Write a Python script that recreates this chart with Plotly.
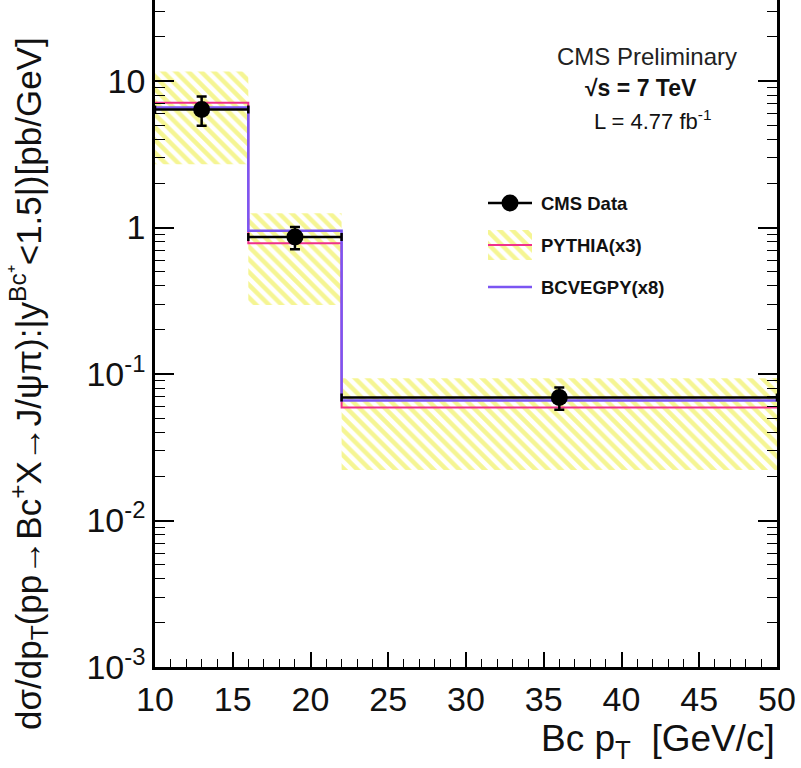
import plotly.graph_objects as go

# Bc pT bins [GeV/c]
bin_edges = [10, 16, 22, 50]
bin_centers = [13, 19, 36]

# CMS measured cross section [pb/GeV]
cms_y = [6.4, 0.86, 0.069]
cms_err = [1.45, 0.15, 0.012]

# Theory predictions (scaled)
pythia_y = [7.1, 0.78, 0.059]
pythia_hi = [11.6, 1.25, 0.0935]
pythia_lo = [2.7, 0.296, 0.0221]
bcvegpy_y = [6.6, 0.95, 0.066]

y_tickvals = [1e-3, 1e-2, 1e-1, 1, 10]
y_ticktext = ["10<sup>-3</sup>", "10<sup>-2</sup>", "10<sup>-1</sup>", "1", "10"]
x_tickvals = [10, 15, 20, 25, 30, 35, 40, 45, 50]

PINK = "#f0308c"
PURPLE = "#7b55f2"
YELLOW = "#ecec28"
FONT = "Liberation Sans"

W, H = 801, 768
ML, MR, MT, MB = 155, 24, 0, 101
PW, PH = W - ML - MR, H - MT - MB
Y_RANGE = [-3, 1.553]


def px(x):
    return (x - ML) / PW


def py(y):
    return (H - MB - y) / PH


fig = go.Figure()

# PYTHIA uncertainty bands (hatched)
for i in range(len(bin_centers)):
    x0, x1 = bin_edges[i], bin_edges[i + 1]
    fig.add_trace(go.Scatter(
        x=[x0, x1, x1, x0, x0],
        y=[pythia_lo[i], pythia_lo[i], pythia_hi[i], pythia_hi[i], pythia_lo[i]],
        mode="lines", fill="toself", line=dict(width=0),
        fillcolor="rgba(255,255,255,0)",
        fillpattern=dict(shape="\\", fgcolor=YELLOW, size=9, solidity=0.5),
        showlegend=False, hoverinfo="skip"))

# step histograms
fig.add_trace(go.Scatter(
    x=bin_edges, y=pythia_y + [pythia_y[-1]], mode="lines",
    line=dict(color=PINK, width=2, shape="hv"), showlegend=False))
fig.add_trace(go.Scatter(
    x=bin_edges, y=bcvegpy_y + [bcvegpy_y[-1]], mode="lines",
    line=dict(color=PURPLE, width=2.5, shape="hv"), showlegend=False))

# data points with bin-width horizontal bars
half_w = [(bin_edges[i + 1] - bin_edges[i]) / 2 for i in range(len(bin_centers))]
fig.add_trace(go.Scatter(
    x=[(bin_edges[i] + bin_edges[i + 1]) / 2 for i in range(len(bin_centers))],
    y=cms_y, mode="markers",
    marker=dict(size=0.1, color="black"),
    error_x=dict(type="data", array=half_w, color="black", thickness=2.5, width=4),
    showlegend=False))
fig.add_trace(go.Scatter(
    x=bin_centers, y=cms_y, mode="markers",
    marker=dict(size=17, color="black"),
    error_y=dict(type="data", array=cms_err, color="black", thickness=2.5, width=5),
    showlegend=False))

# right-hand axis carrying major and minor ticks
fig.add_trace(go.Scatter(x=[None], y=[None], yaxis="y3", showlegend=False))

# legend drawn on an overlay frame
lx0, lx1, lxm = px(488), px(532), px(510)
fig.add_trace(go.Scatter(x=[lx0, lx1], y=[py(203)] * 2, mode="lines",
                         line=dict(color="black", width=2.5),
                         xaxis="x2", yaxis="y2", showlegend=False))
fig.add_trace(go.Scatter(x=[lxm], y=[py(203)], mode="markers",
                         marker=dict(size=17, color="black"),
                         xaxis="x2", yaxis="y2", showlegend=False))
fig.add_trace(go.Scatter(
    x=[lx0, lx1, lx1, lx0, lx0], y=[py(260), py(260), py(230), py(230), py(260)],
    mode="lines", fill="toself", line=dict(width=0), fillcolor="rgba(255,255,255,0)",
    fillpattern=dict(shape="\\", fgcolor=YELLOW, size=9, solidity=0.5),
    xaxis="x2", yaxis="y2", showlegend=False))
fig.add_trace(go.Scatter(x=[lx0, lx1], y=[py(245)] * 2, mode="lines",
                         line=dict(color=PINK, width=2),
                         xaxis="x2", yaxis="y2", showlegend=False))
fig.add_trace(go.Scatter(x=[lx0, lx1], y=[py(287)] * 2, mode="lines",
                         line=dict(color=PURPLE, width=2.5),
                         xaxis="x2", yaxis="y2", showlegend=False))

annotations = []
for label, ypix in [("CMS Data", 203), ("PYTHIA(x3)", 245), ("BCVEGPY(x8)", 287)]:
    annotations.append(dict(
        x=px(539), y=py(ypix), xref="paper", yref="paper", text=f"<b>{label}</b>",
        showarrow=False, xanchor="left", yanchor="middle",
        font=dict(family=FONT, size=18.5, color="#111")))

annotations += [
    dict(x=px(647), y=py(57), xref="paper", yref="paper", text="CMS Preliminary",
         showarrow=False, xanchor="center", yanchor="middle",
         font=dict(family=FONT, size=24, color="#222")),
    dict(x=px(641), y=py(88), xref="paper", yref="paper", text="<b>√s = 7 TeV</b>",
         showarrow=False, xanchor="center", yanchor="middle",
         font=dict(family=FONT, size=23, color="#111")),
    dict(x=px(652), y=py(120), xref="paper", yref="paper", text="L = 4.77 fb<sup>-1</sup>",
         showarrow=False, xanchor="center", yanchor="middle",
         font=dict(family=FONT, size=22, color="#111")),
    dict(x=px(777), y=py(741), xref="paper", yref="paper",
         text="Bc p<sub>T</sub>  [GeV/c]",
         showarrow=False, xanchor="right", yanchor="middle",
         font=dict(family=FONT, size=37, color="#111")),
    dict(x=px(29), y=py(384), xref="paper", yref="paper", textangle=-90,
         text="dσ/dp<sub>T</sub>(pp→Bc<sup>+</sup>X→J/ψπ):|y<sup>Bc⁺</sup><1.5|)[pb/GeV]",
         showarrow=False, xanchor="center", yanchor="middle",
         font=dict(family=FONT, size=35, color="#111")),
]

minor_y = [k * 10.0 ** d for d in range(-3, 2) for k in range(2, 10)]

fig.update_layout(
    width=W, height=H, margin=dict(l=ML, r=MR, t=MT, b=MB),
    paper_bgcolor="white", plot_bgcolor="white",
    showlegend=False, annotations=annotations,
    xaxis=dict(range=[10, 50], tickvals=x_tickvals, ticks="inside", ticklen=15,
               tickwidth=1.5, tickcolor="black",
               minor=dict(dtick=1, tick0=10, ticks="inside", ticklen=8, tickwidth=1.2,
                          tickcolor="black"),
               showline=True, linewidth=2.5, linecolor="black", mirror=False,
               showgrid=False, zeroline=False,
               tickfont=dict(family=FONT, size=34, color="#111")),
    yaxis=dict(type="log", range=Y_RANGE, tickvals=y_tickvals, ticktext=y_ticktext,
               ticks="inside", ticklen=19, tickwidth=1.5, tickcolor="black",
               minor=dict(tickvals=minor_y, ticks="inside", ticklen=10, tickwidth=1.2,
                          tickcolor="black"),
               showline=True, linewidth=2.5, linecolor="black", mirror=False,
               showgrid=False, zeroline=False,
               tickfont=dict(family=FONT, size=34, color="#111")),
    yaxis3=dict(type="log", range=Y_RANGE, overlaying="y", side="right", anchor="x",
                tickvals=y_tickvals, showticklabels=False,
                ticks="inside", ticklen=19, tickwidth=1.5, tickcolor="black",
                minor=dict(tickvals=minor_y, ticks="inside", ticklen=10, tickwidth=1.2,
                           tickcolor="black"),
                showline=True, linewidth=2.5, linecolor="black",
                showgrid=False, zeroline=False),
    xaxis2=dict(overlaying="x", range=[0, 1], visible=False),
    yaxis2=dict(overlaying="y", range=[0, 1], visible=False),
)

fig.write_html("out.html")
